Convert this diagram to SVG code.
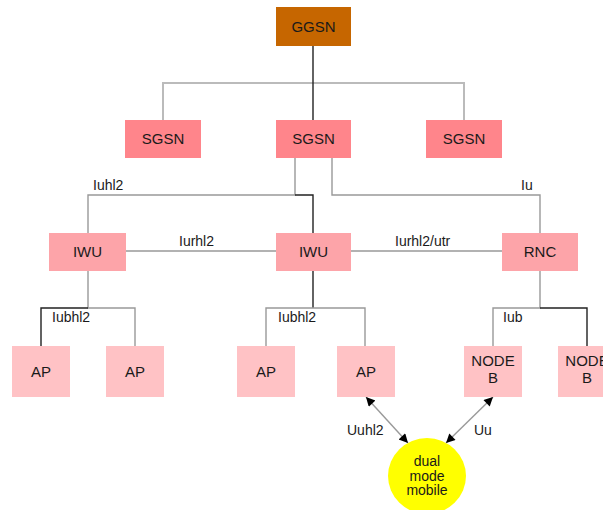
<svg xmlns="http://www.w3.org/2000/svg" width="603" height="510" viewBox="0 0 603 510">
<style>
text{font-family:"Liberation Sans",Arial,sans-serif;fill:#1a1a1a}
.n{font-size:15px;text-anchor:middle}
.l{font-size:14px}
.m{font-size:14px;text-anchor:middle}
.g{stroke:#999;stroke-width:1.4;fill:none}
.k{stroke:#222;stroke-width:1.4;fill:none}
.ggsn{fill:#c66600}
.sgsn{fill:#ff858b}
.iwu{fill:#fda4a9}
.ap{fill:#ffc2c5}
</style>
<defs>
<marker id="ah" viewBox="0 0 10 10" refX="10" refY="5" markerWidth="13" markerHeight="9" markerUnits="userSpaceOnUse" orient="auto-start-reverse">
<path d="M0,0 L10,5 L0,10 z" fill="#000"/>
</marker>
</defs>
<g id="connectors">
<path d="M163,120 V83 H464 V120" style="stroke:#bbb;stroke-width:2;fill:none"/>
<path class="k" d="M313,46 V120"/>
<path class="g" d="M295,158 V195 H88 V233"/>
<path class="k" d="M295,195 H313 V233"/>
<path class="g" d="M332,158 V195 H540 V233"/>
<path class="g" d="M126,251 H276"/>
<path class="g" d="M351,251 H502"/>
<path class="g" d="M88,271 V308 H135 V346"/>
<path class="k" d="M41,346 V308 H88"/>
<path class="k" d="M313,271 V308"/>
<path class="g" d="M266,346 V308 H365 V346"/>
<path class="g" d="M540,271 V308 H493 V346"/>
<path class="k" d="M540,308 H587 V346"/>
<path class="g" d="M366,397 L408,443" marker-start="url(#ah)" marker-end="url(#ah)"/>
<path class="g" d="M493,397 L446,443" marker-start="url(#ah)" marker-end="url(#ah)"/>
<text class="l" x="93" y="190">Iuhl2</text>
<text class="l" x="521" y="190">Iu</text>
<text class="l" x="179" y="246">Iurhl2</text>
<text class="l" x="395" y="246">Iurhl2/utr</text>
<text class="l" x="52" y="322">Iubhl2</text>
<text class="l" x="278" y="322">Iubhl2</text>
<text class="l" x="503" y="322">Iub</text>
<text class="l" x="347" y="435">Uuhl2</text>
<text class="l" x="474" y="435">Uu</text>
</g>
<g id="ggsn"><rect class="ggsn" x="276" y="7" width="75" height="39"/><text class="n" x="313.5" y="32">GGSN</text></g>
<g id="sgsn1"><rect class="sgsn" x="125" y="120" width="76" height="38"/><text class="n" x="163" y="144">SGSN</text></g>
<g id="sgsn2"><rect class="sgsn" x="276" y="120" width="75" height="38"/><text class="n" x="313.5" y="144">SGSN</text></g>
<g id="sgsn3"><rect class="sgsn" x="426" y="120" width="76" height="38"/><text class="n" x="464" y="144">SGSN</text></g>
<g id="iwu1"><rect class="iwu" x="49" y="233" width="77" height="38"/><text class="n" x="87.5" y="257">IWU</text></g>
<g id="iwu2"><rect class="iwu" x="276" y="233" width="75" height="38"/><text class="n" x="313.5" y="257">IWU</text></g>
<g id="rnc"><rect class="iwu" x="502" y="233" width="76" height="38"/><text class="n" x="540" y="257">RNC</text></g>
<g id="ap1"><rect class="ap" x="12" y="346" width="58" height="51"/><text class="n" x="41" y="377">AP</text></g>
<g id="ap2"><rect class="ap" x="106" y="346" width="58" height="51"/><text class="n" x="135" y="377">AP</text></g>
<g id="ap3"><rect class="ap" x="237" y="346" width="58" height="51"/><text class="n" x="266" y="377">AP</text></g>
<g id="ap4"><rect class="ap" x="337" y="346" width="58" height="51"/><text class="n" x="366" y="377">AP</text></g>
<g id="nodeb1"><rect class="ap" x="464" y="346" width="58" height="51"/><text class="n" x="493" y="366">NODE</text><text class="n" x="493" y="383">B</text></g>
<g id="nodeb2"><rect class="ap" x="558" y="346" width="58" height="51"/><text class="n" x="587" y="366">NODE</text><text class="n" x="587" y="383">B</text></g>
<g id="mobile"><ellipse cx="427" cy="476" rx="39" ry="38" fill="#ffff00"/>
<text class="m" x="427" y="466">dual</text>
<text class="m" x="427" y="480.5">mode</text>
<text class="m" x="427" y="495">mobile</text></g>
</svg>
